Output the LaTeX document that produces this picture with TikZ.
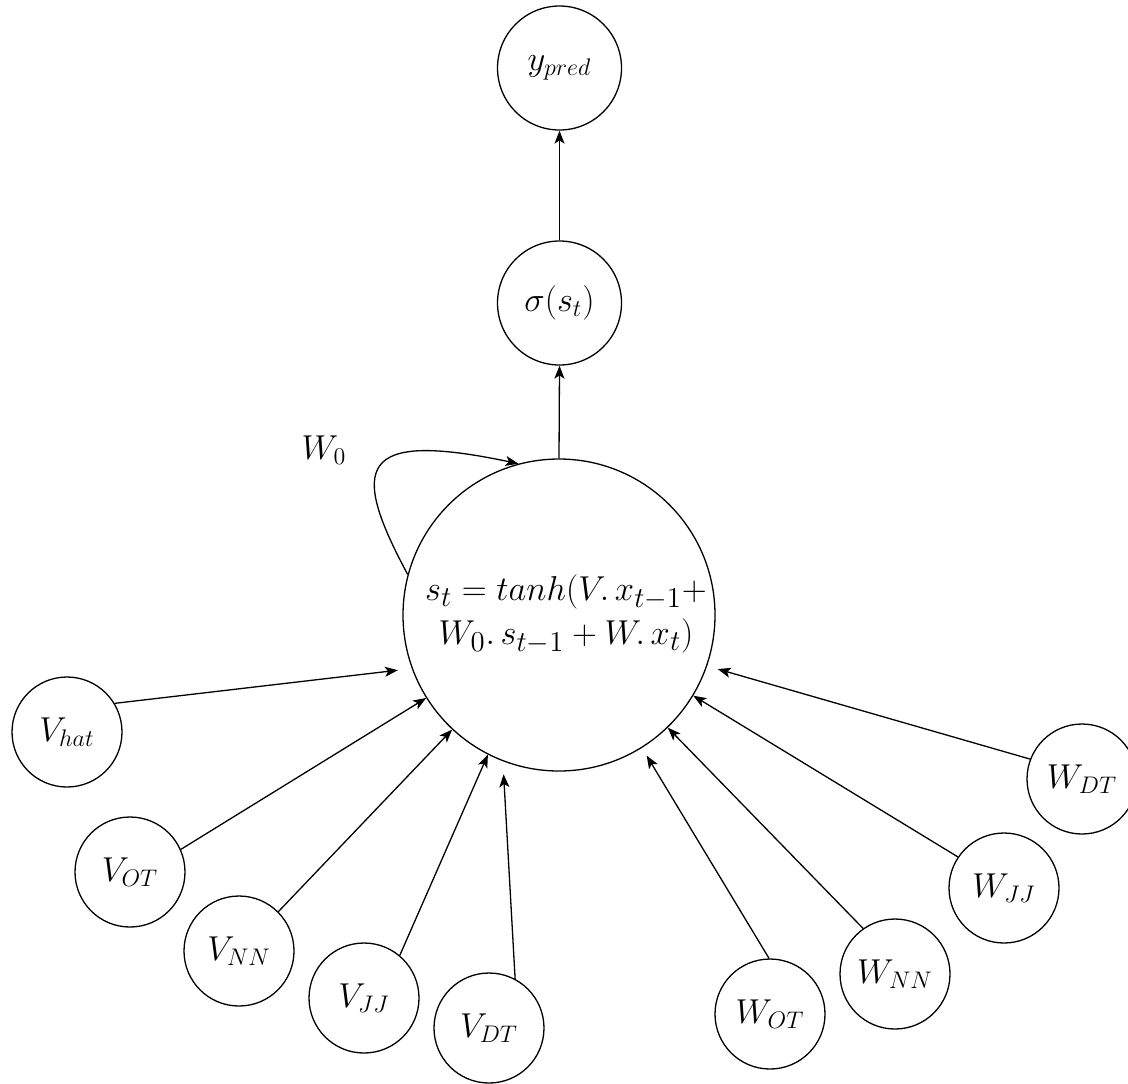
\documentclass[tikz,border=0pt]{standalone}
\usetikzlibrary{arrows.meta,calc}
\begin{document}
\begin{tikzpicture}[x=0.5pt,y=-0.5pt,
  every path/.style={line width=0.65pt},
  arr/.style={-{Stealth[length=6.5pt,width=5pt,inset=1.6pt]}},
  smallnode/.style={circle,draw,line width=0.65pt,minimum size=55pt,inner sep=0pt,font=\fontsize{17.5}{20}\selectfont},
  midnode/.style={circle,draw,line width=0.65pt,minimum size=62pt,inner sep=0pt,font=\fontsize{17.5}{20}\selectfont},
  bignode/.style={circle,draw,line width=0.65pt,minimum size=156pt,inner sep=0pt},
  txt/.style={inner sep=0pt,align=center,font=\fontsize{19}{22}\selectfont}]
\useasboundingbox (0,0) rectangle (1128,1083);
% main nodes
\node[midnode] (ypred) at (559.5,68) {$y_{pred}$};
\node[midnode] (sigma) at (559.5,303) {$\sigma(s_t)$};
\node[bignode] (main) at (559,615) {};
\node[txt] (eq) at (566,614) {$s_t = tanh(V{.}\,x_{t-1}{+}$\\[0pt]$W_0{.}\,s_{t-1} + W{.}\,x_t)$};
% inputs
\node[smallnode] (Vhat) at (67,732) {$V_{hat}$};
\node[smallnode] (VOT) at (130,872) {$V_{OT}$};
\node[smallnode] (VNN) at (239,951) {$V_{NN}$};
\node[smallnode] (VJJ) at (364,998) {$V_{JJ}$};
\node[smallnode] (VDT) at (489,1028) {$V_{DT}$};
\node[smallnode] (WOT) at (770,1014) {$W_{OT}$};
\node[smallnode] (WNN) at (895,974) {$W_{NN}$};
\node[smallnode] (WJJ) at (1004,888) {$W_{JJ}$};
\node[smallnode] (WDT) at (1082,779) {$W_{DT}$};
\node[inner sep=0pt,font=\fontsize{17.5}{20}\selectfont] (w0) at (324,450) {$W_0$};
% connectors
\draw[arr] (main.north) -- (sigma.south);
\draw[arr] (sigma.north) -- (ypred.south);
\draw[arr] (main.165) .. controls +(-58,-108) and +(-161,-34) .. (main.105);
\draw[arr,shorten >=7pt] (Vhat.31) -- (main.200);
\draw[arr] (VOT.24) -- (main.212);
\draw[arr] (VNN.45) -- (main.227);
\draw[arr] (VJJ.50) -- (main.243);
\draw[arr,shorten >=6.5pt] (VDT.62) -- (main.249.5);
\draw[arr,shorten >=4.5pt] (WOT.91) -- (main.302);
\draw[arr] (WNN.125) -- (main.314);
\draw[arr] (WJJ.146) -- (main.329);
\draw[arr,shorten >=5.5pt] (WDT.159) -- (main.341.5);
\end{tikzpicture}
\end{document}
